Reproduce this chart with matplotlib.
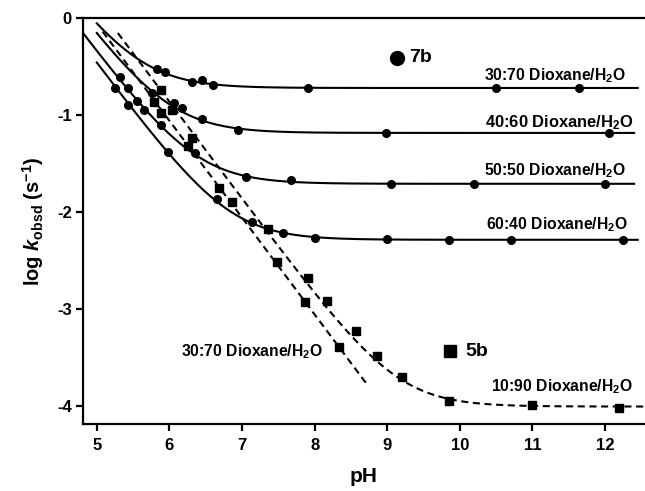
import numpy as np
import matplotlib.pyplot as plt

plt.rcParams['font.family'] = ['Liberation Sans', 'DejaVu Sans']
plt.rcParams['font.weight'] = 'bold'
plt.rcParams['mathtext.fontset'] = 'custom'
plt.rcParams['mathtext.rm'] = 'Liberation Sans:bold'
plt.rcParams['mathtext.it'] = 'Liberation Sans:italic:bold'
plt.rcParams['mathtext.bf'] = 'Liberation Sans:bold'
plt.rcParams['axes.unicode_minus'] = False

# 7b, кружки
ph_7b_3070 = [5.83, 5.94, 6.31, 6.45, 6.60, 7.91, 10.50, 11.64]
lk_7b_3070 = [-0.53, -0.56, -0.66, -0.64, -0.69, -0.72, -0.72, -0.72]
ph_7b_4060 = [5.76, 6.06, 6.17, 6.45, 6.94, 8.98, 12.06]
lk_7b_4060 = [-0.77, -0.88, -0.93, -1.04, -1.16, -1.19, -1.19]
ph_7b_5050 = [5.32, 5.43, 5.55, 5.65, 5.88, 6.35, 7.05, 7.67, 9.05, 10.20, 12.00]
lk_7b_5050 = [-0.61, -0.72, -0.86, -0.95, -1.10, -1.39, -1.64, -1.67, -1.71, -1.71, -1.71]
ph_7b_6040 = [5.25, 5.43, 5.98, 6.65, 7.14, 7.56, 8.00, 9.00, 9.85, 10.71, 12.25]
lk_7b_6040 = [-0.72, -0.90, -1.38, -1.87, -2.11, -2.22, -2.27, -2.28, -2.29, -2.29, -2.29]

# 5b, квадраты
ph_5b_3070 = [5.79, 5.88, 6.25, 6.68, 6.86, 7.48, 7.87, 8.34]
lk_5b_3070 = [-0.87, -0.98, -1.32, -1.75, -1.90, -2.52, -2.93, -3.40]
ph_5b_1090 = [5.88, 6.03, 6.31, 7.36, 7.91, 8.17, 8.57, 8.86, 9.20, 9.85, 10.99, 12.19]
lk_5b_1090 = [-0.74, -0.95, -1.24, -2.18, -2.68, -2.92, -3.23, -3.49, -3.70, -3.95, -3.99, -4.03]

# параметры подгонки: log k = log(10^(b - pH) + 10^c), диапазон pH
fit_b = [4.84, 4.803, 4.643, 4.534, 4.94, 5.135]
fit_c = [-0.722, -1.186, -1.711, -2.289, -9.0, -4.01]
fit_ph0 = [5.0, 5.0, 4.8, 5.0, 5.08, 5.29]
fit_ph1 = [12.45, 12.4, 12.4, 12.45, 8.73, 12.6]
fit_dash = [False, False, False, False, True, True]

solvent_labels = ['30:70 Dioxane/H$_\\mathrm{2}$O', '40:60 Dioxane/H$_\\mathrm{2}$O',
                  '50:50 Dioxane/H$_\\mathrm{2}$O', '60:40 Dioxane/H$_\\mathrm{2}$O',
                  '30:70 Dioxane/H$_\\mathrm{2}$O', '10:90 Dioxane/H$_\\mathrm{2}$O']
label_x = [12.29, 12.39, 12.29, 12.31, 6.16, 12.39]
label_y = [-0.59, -1.08, -1.58, -2.13, -3.44, -3.80]
label_ha = ['right', 'right', 'right', 'right', 'left', 'right']
label_fs = [11.3, 11.9, 11.3, 11.3, 11.3, 11.3]

fig = plt.figure(figsize=(6.45, 4.91), dpi=100)
ax = fig.add_axes([0.1287, 0.1365, 0.8713, 0.8268])

for b, c, p0, p1, d in zip(fit_b, fit_c, fit_ph0, fit_ph1, fit_dash):
    ph = np.linspace(p0, p1, 300)
    lk = np.log10(10 ** (b - ph) + 10 ** c)
    if d:
        ax.plot(ph, lk, color='black', lw=1.5, dashes=(3.4, 2.2))
    else:
        ax.plot(ph, lk, color='black', lw=1.5)

for xs, ys in [(ph_7b_3070, lk_7b_3070), (ph_7b_4060, lk_7b_4060),
               (ph_7b_5050, lk_7b_5050), (ph_7b_6040, lk_7b_6040)]:
    ax.plot(xs, ys, 'o', color='black', ms=5.5, ls='none')
for xs, ys in [(ph_5b_3070, lk_5b_3070), (ph_5b_1090, lk_5b_1090)]:
    ax.plot(xs, ys, 's', color='black', ms=5.5, ls='none')

for t, x, y, ha, fs in zip(solvent_labels, label_x, label_y, label_ha, label_fs):
    ax.text(x, y, t, ha=ha, va='center', fontsize=fs, fontweight='bold')

# легенда вручную
ax.plot([9.13], [-0.41], 'o', color='black', ms=10)
ax.text(9.30, -0.41, '7b', ha='left', va='center', fontsize=14, fontweight='bold')
ax.plot([9.86], [-3.44], 's', color='black', ms=9)
ax.text(10.08, -3.44, '5b', ha='left', va='center', fontsize=14, fontweight='bold')

ax.set_xlim(4.81, 12.55)
ax.set_ylim(-4.19, 0)
ax.set_xticks([5, 6, 7, 8, 9, 10, 11, 12])
ax.set_yticks([0, -1, -2, -3, -4])
ax.spines['right'].set_visible(False)
for s in ['left', 'bottom', 'top']:
    ax.spines[s].set_linewidth(1.6)
ax.tick_params(direction='out', length=5, width=1.6, labelsize=12, pad=3)
ax.tick_params(axis='x', pad=5)
for lab in ax.get_xticklabels() + ax.get_yticklabels():
    lab.set_fontweight('bold')

ax.set_xlabel('pH', fontsize=15, fontweight='bold', labelpad=10)
ax.set_ylabel('log $\\mathit{k}_\\mathrm{obsd}$ (s$^\\mathrm{-1}$)', fontsize=14.5,
              fontweight='bold', labelpad=8)

fig.savefig('out.png', dpi=100)
